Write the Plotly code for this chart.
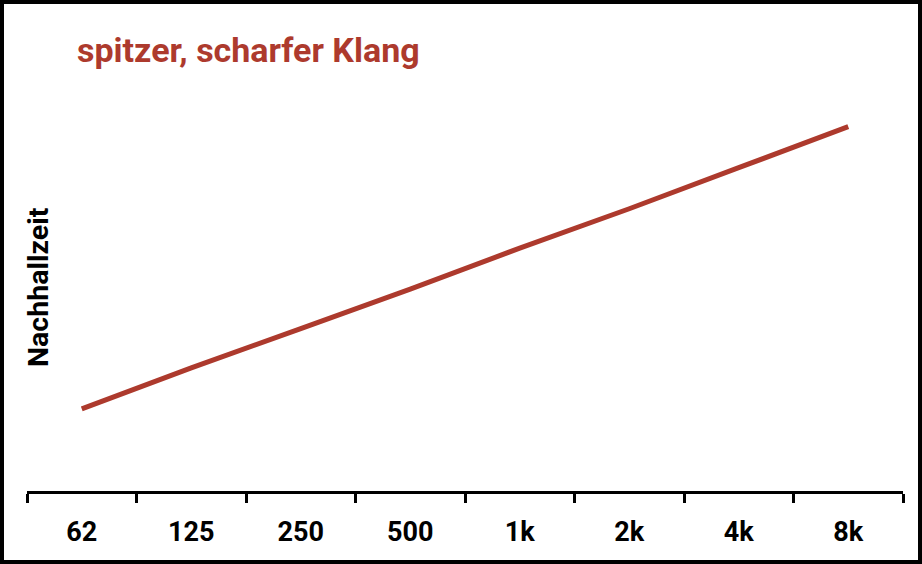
import plotly.graph_objects as go

categories = ["62", "125", "250", "500", "1k", "2k", "4k", "8k"]
nachhallzeit = [0.50, 0.75, 0.99, 1.23, 1.48, 1.72, 1.97, 2.22]

RED = "#ad3a2d"
FONT = "Roboto, sans-serif"

W, H = 922, 564
ml, mr, mt, mb = 27, 19, 20, 73

fig = go.Figure()
fig.add_trace(go.Scatter(
    x=categories, y=nachhallzeit, mode="lines",
    line=dict(color=RED, width=5), hoverinfo="skip", showlegend=False,
))

pw = W - ml - mr
ph = H - mt - mb
fig.update_layout(
    width=W, height=H,
    margin=dict(l=ml, r=mr, t=mt, b=mb),
    paper_bgcolor="white", plot_bgcolor="white",
    title=dict(text="spitzer, scharfer Klang", x=77 / W, xanchor="left", xref="container",
               y=1 - 50 / H, yanchor="middle", yref="container",
               font=dict(family=FONT, size=34, color=RED, weight="bold")),
    xaxis=dict(
        type="category", range=[-0.5, 7.5], tickson="boundaries",
        showline=True, linecolor="black", linewidth=3,
        ticks="outside", ticklen=9, tickwidth=3, tickcolor="black",
        showgrid=False, zeroline=False, ticklabelstandoff=15,
        tickfont=dict(family=FONT, size=27, color="black", weight="bold"),
    ),
    yaxis=dict(range=[0, 2.87], visible=False, showgrid=False, zeroline=False),
    annotations=[dict(
        text="Nachhallzeit", textangle=-90, xref="paper", yref="paper",
        x=(38 - ml) / pw, y=1 - (287 - mt) / ph, xanchor="center", yanchor="middle",
        showarrow=False, font=dict(family=FONT, size=28.5, color="black", weight="bold"),
    )],
    shapes=[dict(
        type="rect", xref="paper", yref="paper", layer="above",
        x0=-ml / pw, x1=1 + mr / pw, y0=-mb / ph, y1=1 + mt / ph,
        line=dict(color="black", width=8), fillcolor="rgba(0,0,0,0)",
    )],
)

fig.write_html("out.html", config={"displayModeBar": False})

with open("out.html", encoding="utf-8") as f:
    html = f.read()
style = "<style>html,body{margin:0;padding:0;overflow:hidden}</style>"
html = html.replace("<head>", "<head>" + style, 1)
with open("out.html", "w", encoding="utf-8") as f:
    f.write(html)
